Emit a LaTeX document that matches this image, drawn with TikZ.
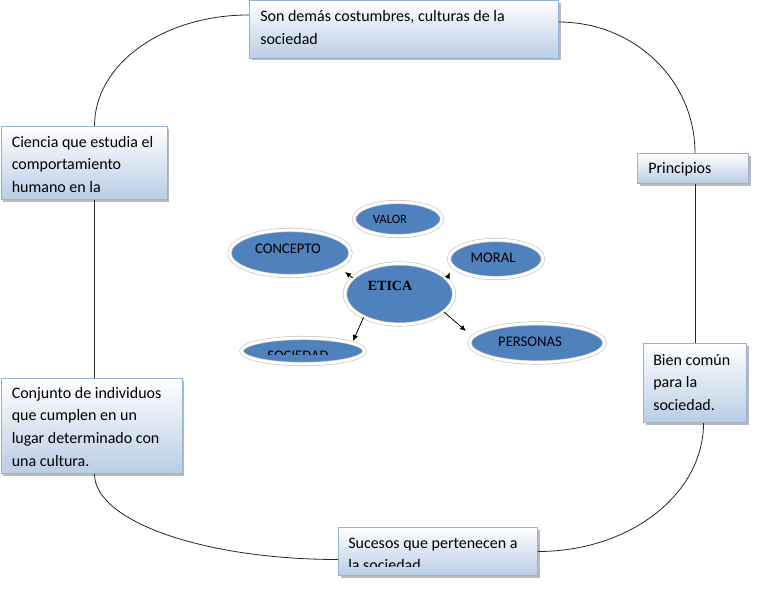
\documentclass[tikz,border=0pt]{standalone}
\usepackage{fontspec}
\setmainfont{Carlito}
\newfontfamily\eticafont{Liberation Serif}
\usetikzlibrary{shapes.geometric,shadows,arrows.meta}
\definecolor{ellblue}{RGB}{79,129,189}
\definecolor{boxborder}{RGB}{149,179,215}
\definecolor{boxbottom}{RGB}{185,205,229}
\begin{document}
\begin{tikzpicture}[x=0.75pt,y=-0.75pt,
  cbox/.style={rectangle, draw=boxborder, line width=0.75pt, top color=white,
    bottom color=boxbottom, anchor=north west, inner sep=0pt,
    drop shadow={shadow xshift=1.5pt, shadow yshift=-1.5pt, fill=black!45, opacity=0.6}},
  btext/.style={anchor=north west, inner sep=0pt, align=left,
    font=\fontsize{12}{17}\selectfont},
  ell/.style={ellipse, fill=ellblue, draw=black!25, double=white,
    double distance=2.2pt, line width=0.45pt, inner sep=0pt,
    drop shadow={shadow xshift=0.6pt, shadow yshift=-1.2pt, fill=black!40, opacity=0.5}},
  etext/.style={inner sep=0pt, font=\fontsize{11}{13}\selectfont},
  conn/.style={draw=black!85, line width=0.6pt},
  arr/.style={draw=black, line width=0.6pt, -{Latex[length=4.5pt,width=4pt]}}
]
\useasboundingbox (0,0) rectangle (776,596);

% ---- boxes ----
\node[cbox, minimum width=231.75pt, minimum height=42.75pt] (top) at (249,0.5) {};
\node[cbox, minimum width=124.5pt, minimum height=54.75pt] (cien) at (0.5,126) {};
\node[cbox, minimum width=83.25pt, minimum height=22.5pt] (prin) at (637,153) {};
\node[cbox, minimum width=77.25pt, minimum height=59.25pt] (bien) at (643,343) {};
\node[cbox, minimum width=135.75pt, minimum height=71.25pt] (conj) at (0.5,378) {};
\node[cbox, minimum width=149.25pt, minimum height=36pt] (suc) at (338,527) {};

% ---- box texts ----
\node[btext] (topt) at ([shift={(8.25pt,-3.85pt)}]top.north west)
  {\strut Son demás costumbres, culturas de la\\sociedad};
\node[btext] (cient) at ([shift={(8.25pt,-3.85pt)}]cien.north west)
  {\strut Ciencia que estudia el\\comportamiento\\humano en la};
\node[btext] (print) at ([shift={(8.25pt,-3.1pt)}]prin.north west)
  {\strut Principios};
\node[btext] (bient) at ([shift={(7.5pt,-4.6pt)}]bien.north west)
  {\strut Bien común\\para la\\sociedad.};
\node[btext] (conjt) at ([shift={(8.25pt,-3.1pt)}]conj.north west)
  {\strut Conjunto de individuos\\que cumplen en un\\lugar determinado con\\una cultura.};
\begin{scope}
  \clip (suc.north west) rectangle ([yshift=6.9pt]suc.south east);
  \node[btext] (suct) at ([shift={(7.5pt,-3.85pt)}]suc.north west)
    {\strut Sucesos que pertenecen a\\la sociedad};
\end{scope}

% ---- connectors ----
\draw[conn] ([xshift=7.9pt]cien.north) .. controls +(0,-62) and +(-86,0) .. ([yshift=10.9pt]top.west);
\draw[conn] ([yshift=5.6pt]top.east) .. controls +(75,0) and +(0,-73) .. (bien.north |- prin.north);
\draw[conn] (bien.north |- prin.south) -- (bien.north);
\draw[conn] ([xshift=6.4pt]bien.south) .. controls +(0,71) and +(92,0) .. (suc.east);
\draw[conn] ([yshift=-6pt]suc.west) .. controls +(-135,0) and +(0,47) .. ([xshift=2.25pt]conj.south);
\draw[conn] ([xshift=7.9pt]cien.south) -- ([xshift=7.9pt]cien.south |- conj.north);

% ---- ellipses ----
\node[ell, minimum width=66pt, minimum height=25.5pt] (valor) at (398,219) {};
\node[ell, minimum width=90.75pt, minimum height=34.5pt] (concepto) at (290,253) {};
\node[ell, minimum width=70.5pt, minimum height=28.5pt] (moral) at (496,259) {};
\node[ell, minimum width=92.25pt, minimum height=19.5pt] (sociedad) at (303,351) {};
\node[ell, minimum width=101.25pt, minimum height=29.25pt] (personas) at (537,343) {};
\node[ell, minimum width=81.75pt, minimum height=45.75pt] (etica) at (399.5,294) {};

\node[etext, font=\fontsize{9.5}{11}\selectfont] (valort) at (390,219) {VALOR};
\node[etext] (conceptot) at (288,249) {CONCEPTO};
\node[etext] (moralt) at (493,258) {MORAL};
\node[etext] (personast) at (530,342) {PERSONAS};
\node[etext, font=\eticafont\bfseries\fontsize{10.5}{12}\selectfont] (eticat) at (390,286) {ETICA};
\begin{scope}
  \clip (sociedad.north west) rectangle ([yshift=4.5pt]sociedad.south east);
  \node[etext, anchor=base] (sociedadt) at (298,360.5) {SOCIEDAD};
\end{scope}

% ---- arrows ----
\coordinate (tipc) at (345,272);
\coordinate (tipm) at (450,272.5);
\coordinate (tips) at (353,341);
\coordinate (tipp) at (466,331);
\draw[arr] (etica.161) -- (tipc);
\draw[arr] (etica.18) -- (tipm);
\draw[arr] (etica.213) -- (tips);
\draw[arr] (etica.338) -- (tipp);
\end{tikzpicture}
\end{document}
